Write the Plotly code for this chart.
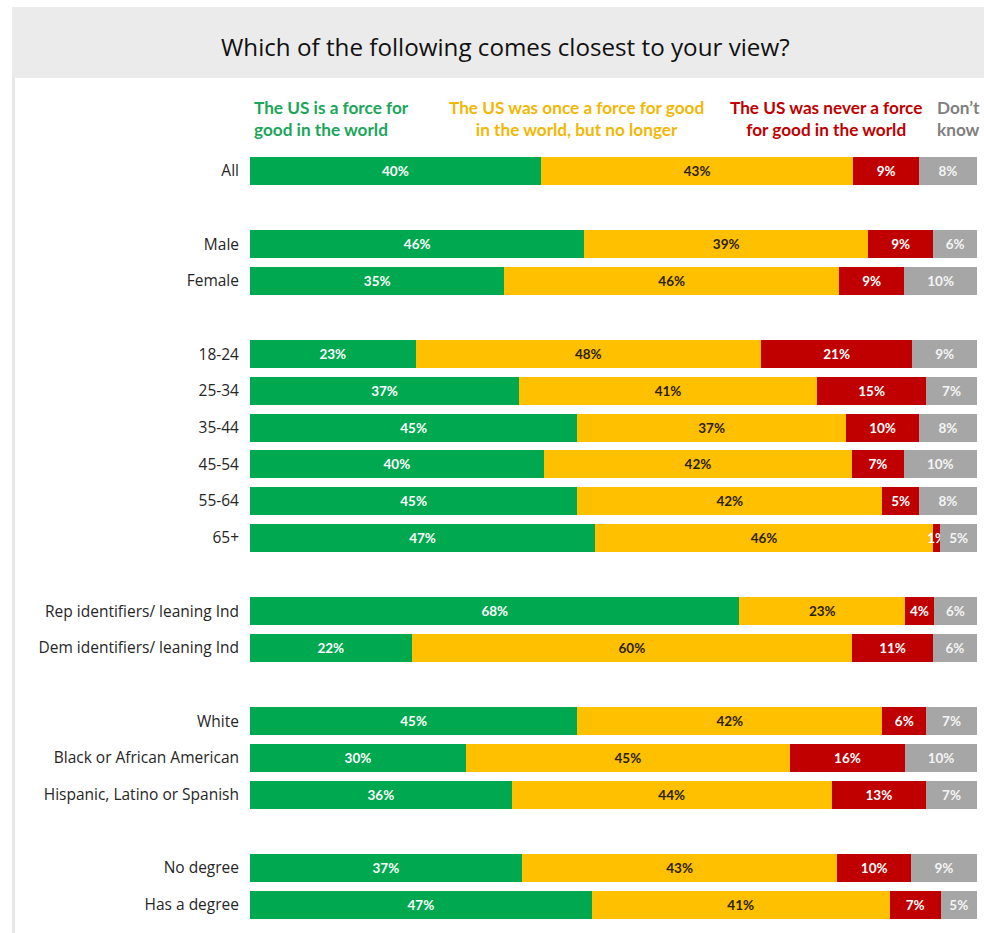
import plotly.graph_objects as go

# Survey groups (each inner list is a block of rows separated by a blank row)
groups = [
    ["All"],
    ["Male", "Female"],
    ["18-24", "25-34", "35-44", "45-54", "55-64", "65+"],
    ["Rep identifiers/ leaning Ind", "Dem identifiers/ leaning Ind"],
    ["White", "Black or African American", "Hispanic, Latino or Spanish"],
    ["No degree", "Has a degree"],
]

series_names = [
    "The US is a force for good in the world",
    "The US was once a force for good in the world, but no longer",
    "The US was never a force for good in the world",
    "Don't know",
]

force_for_good = [40, 46, 35, 23, 37, 45, 40, 45, 47, 68, 22, 45, 30, 36, 37, 47]
once_but_no_longer = [43, 39, 46, 48, 41, 37, 42, 42, 46, 23, 60, 42, 45, 44, 43, 41]
never_force = [9, 9, 9, 21, 15, 10, 7, 5, 1, 4, 11, 6, 16, 13, 10, 7]
dont_know = [8, 6, 10, 9, 7, 8, 10, 8, 5, 6, 6, 7, 10, 7, 9, 5]

title_text = "Which of the following comes closest to your view?"

# Row positions: consecutive rows within a block, one empty row between blocks
categories, rows = [], []
pos = 0
for g in groups:
    for c in g:
        categories.append(c)
        rows.append(pos)
        pos += 1
    pos += 1

W, H = 984, 933
ML, MR, MT, MB = 250, 7, 134, 10
PW, PH = W - ML - MR, H - MT - MB


def px(x):
    return (x - ML) / PW


def py(y):
    return (H - MB - y) / PH


colors = ["#00A94F", "#FFC000", "#C00000", "#A6A6A6"]
text_colors = ["#FFFFFF", "#2B2200", "#FFFFFF", "#F4F4F4"]
values = [force_for_good, once_but_no_longer, never_force, dont_know]

fig = go.Figure()
for name, vals, col, tcol in zip(series_names, values, colors, text_colors):
    fig.add_trace(go.Bar(
        name=name,
        y=rows,
        x=vals,
        orientation="h",
        marker=dict(color=col, line=dict(width=0)),
        text=[f"{v}%" for v in vals],
        textposition="inside",
        insidetextanchor="middle",
        textangle=0,
        constraintext="none",
        textfont=dict(family="Lato", size=13.5, color=tcol, weight="bold"),
        hoverinfo="skip",
    ))

fig.update_layout(
    width=W,
    height=H,
    margin=dict(l=ML, r=MR, t=MT, b=MB),
    barmode="stack",
    barnorm="percent",
    bargap=0.24,
    showlegend=False,
    paper_bgcolor="white",
    plot_bgcolor="white",
    uniformtext=dict(minsize=13.5, mode="show"),
    xaxis=dict(range=[0, 100], visible=False, fixedrange=True),
    yaxis=dict(
        range=[rows[-1] + 0.5, -1.0],
        tickvals=rows,
        ticktext=categories,
        tickfont=dict(family="Open Sans", size=15.5, color="#262626"),
        ticklabelstandoff=10,
        showgrid=False,
        zeroline=False,
        showline=False,
        ticks="",
    ),
)

# Title band and left rule
fig.add_shape(type="rect", xref="paper", yref="paper",
              x0=px(12), x1=px(W), y0=py(78), y1=py(7),
              fillcolor="#EBEBEB", line=dict(width=0), layer="below")
fig.add_shape(type="rect", xref="paper", yref="paper",
              x0=px(12), x1=px(15), y0=py(H), y1=py(78),
              fillcolor="#E8E8E8", line=dict(width=0), layer="below")

fig.add_annotation(xref="paper", yref="paper", x=px(505), y=py(46),
                   text=title_text, showarrow=False,
                   font=dict(family="Open Sans", size=24.2, color="#111111"),
                   xanchor="center", yanchor="middle")

# Column headers coloured like the series
header_font = dict(family="Lato", size=17.2, weight="bold")
headers = [
    ("The US is a force for<br>good in the world", 252, "left", "#1BA65A"),
    ("The US was once a force for good<br>in the world, but no longer", 576, "center", "#F2B705"),
    ("The US was never a force<br>for good in the world", 826, "center", "#C00000"),
    ("Don\u2019t<br>know", 935, "left", "#808080"),
]
for txt, x, anchor, col in headers:
    fig.add_annotation(xref="paper", yref="paper", x=px(x), y=py(119),
                       text=txt, showarrow=False, align=anchor,
                       xanchor=anchor, yanchor="middle",
                       font=dict(color=col, **header_font))

fig.write_html("out.html")
